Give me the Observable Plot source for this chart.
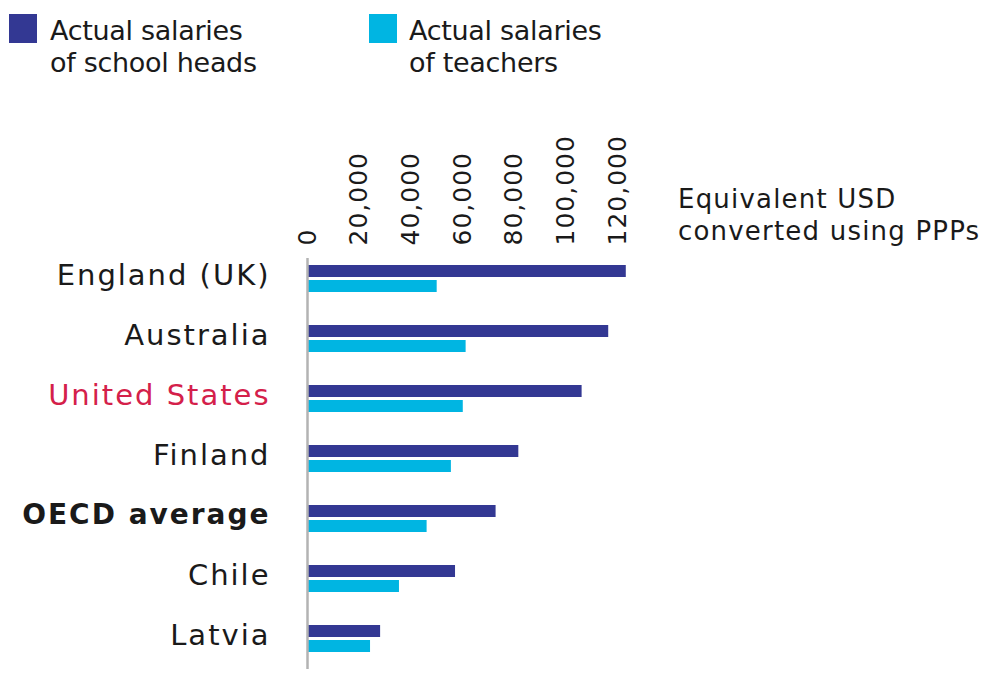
<!DOCTYPE html>
<html>
<head>
<meta charset="utf-8">
<script src="https://cdn.jsdelivr.net/npm/d3@7"></script>
<script src="https://cdn.jsdelivr.net/npm/@observablehq/plot@0.6"></script>
<style>
  html, body { margin: 0; padding: 0; background: #fff; overflow: hidden; }
  body { width: 1004px; height: 673px; position: relative; font-family: "DejaVu Sans", sans-serif; color: #1a1a1a; }
  #legend { position: relative; height: 100px; }
  .sw { position: absolute; width: 28px; height: 29px; }
  .lt { position: absolute; font-size: 27px; line-height: 32px; letter-spacing: -0.3px; color: #1a1a1a; }
  #axtitle { position: absolute; left: 678px; top: 183px; font-size: 26px; line-height: 32px; letter-spacing: 1.2px; color: #1a1a1a; z-index: 2; }
  #chart svg g[aria-label="text"] text { letter-spacing: 2px; }
  #chart svg g[aria-label="x-axis tick label"] text { letter-spacing: 1px; }
</style>
</head>
<body>
<div id="legend"></div>
<div id="axtitle"></div>
<div id="chart"></div>
<script>
// ---- data ----
const countries = ["England (UK)", "Australia", "United States", "Finland", "OECD average", "Chile", "Latvia"];
const schoolHeads = [123400, 116600, 106300, 81800, 73000, 57300, 28300];
const teachers = [50200, 61400, 60300, 55700, 46300, 35600, 24400];
const seriesNames = ["Actual salaries of school heads", "Actual salaries of teachers"];
const seriesColors = ["#333893", "#00b5e2"];
const xTicks = [0, 20000, 40000, 60000, 80000, 100000, 120000];
const axisTitle = ["Equivalent USD", "converted using PPPs"];
const highlight = "United States";
const boldLabel = "OECD average";

// ---- table ----
const rows = [];
countries.forEach((c, i) => {
  rows.push({country: c, series: seriesNames[0], value: schoolHeads[i]});
  rows.push({country: c, series: seriesNames[1], value: teachers[i]});
});

// ---- legend (HTML, above the SVG) ----
const legend = document.getElementById("legend");
const legendLines = [["Actual salaries", "of school heads"], ["Actual salaries", "of teachers"]];
const legendPos = [{sw: 9, tx: 50}, {sw: 369, tx: 409}];
seriesNames.forEach((s, i) => {
  const sw = document.createElement("div");
  sw.className = "sw";
  sw.style.left = legendPos[i].sw + "px";
  sw.style.top = "14px";
  sw.style.background = seriesColors[i];
  legend.appendChild(sw);
  const t = document.createElement("div");
  t.className = "lt";
  t.style.left = legendPos[i].tx + "px";
  t.style.top = "15px";
  t.innerHTML = legendLines[i].join("<br>");
  legend.appendChild(t);
});
document.getElementById("axtitle").innerHTML = axisTitle.join("<br>");

// ---- chart ----
const fmt = d3.format(",");
const plot = Plot.plot({
  width: 1004,
  height: 573,
  marginLeft: 307,
  marginRight: 387,
  marginTop: 146,
  marginBottom: 2,
  style: {fontFamily: "DejaVu Sans, sans-serif", color: "#1a1a1a", background: "transparent"},
  x: {domain: [0, 120000], axis: null},
  y: {domain: seriesNames, axis: null, paddingInner: 0.1875, paddingOuter: 0.99},
  fy: {domain: countries, axis: null, padding: 0},
  color: {domain: seriesNames, range: seriesColors},
  marks: [
    Plot.axisX({anchor: "top", ticks: xTicks, tickFormat: fmt, tickRotate: -90, tickSize: 0, tickPadding: 4, fontSize: 25, fill: "#1a1a1a", label: null}),
    Plot.barX(rows, {x: "value", y: "series", fy: "country", fill: "series"}),
    Plot.ruleX(countries.slice(1), {x: () => 0, fy: d => d, stroke: "#b3b3b3", strokeWidth: 2.5}),
    Plot.ruleX(countries.slice(0, 1), {x: () => 0, fy: d => d, stroke: "#b3b3b3", strokeWidth: 2.5, insetTop: 9}),
    Plot.text(countries, {filter: d => d !== highlight && d !== boldLabel, fy: d => d, text: d => d, frameAnchor: "left", textAnchor: "end", dx: -37, dy: -4, fontSize: 29, fill: "#1a1a1a"}),
    Plot.text(countries, {filter: d => d === highlight, fy: d => d, text: d => d, frameAnchor: "left", textAnchor: "end", dx: -37, dy: -4, fontSize: 29, fill: "#d4204a"}),
    Plot.text(countries, {filter: d => d === boldLabel, fy: d => d, text: d => d, frameAnchor: "left", textAnchor: "end", dx: -37, dy: -4, fontSize: 28, fontWeight: "bold", fill: "#1a1a1a"})
  ]
});
document.getElementById("chart").appendChild(plot);
</script>
</body>
</html>
